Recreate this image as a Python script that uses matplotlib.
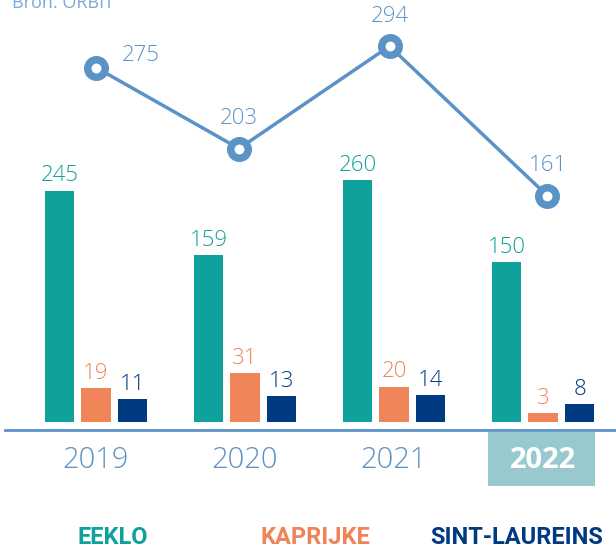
import matplotlib.pyplot as plt
import matplotlib.transforms as mtransforms
from matplotlib.patches import Rectangle
import numpy as np

# data
years = ['2019', '2020', '2021', '2022']
eeklo = [245, 159, 260, 150]
kaprijke = [19, 31, 20, 3]
sint_laureins = [11, 13, 14, 8]
totaal = [275, 203, 294, 161]
gemeenten = ['EEKLO', 'KAPRIJKE', 'SINT-LAUREINS']

c_eeklo = '#0fa19c'
c_kap = '#ef8459'
c_sint = '#003a80'
c_line = '#5b93c7'
c_box = '#97c9cf'

plt.rcParams['font.family'] = ['Open Sans', 'DejaVu Sans']

W, H = 616, 547
fig = plt.figure(figsize=(W / 100, H / 100), dpi=100)

# axes: baseline of the bars at 422 px from top
ax = fig.add_axes([0, 125 / H, 1, 422 / H])
x = np.arange(len(years))
ax.set_xlim(-96 / 149, (W - 96) / 149)

# bars use a compressed (power) scale like the original graphic
ax.set_yscale('function', functions=(lambda v: np.sign(v) * np.abs(v) ** 0.75,
                                     lambda v: np.sign(v) * np.abs(v) ** (4 / 3)))
ax.set_ylim(0, 546)

bw = 0.2
step = 0.245
reeksen = [(eeklo, c_eeklo), (kaprijke, c_kap), (sint_laureins, c_sint)]
for k, (vals, col) in enumerate(reeksen):
    xs = x + (k - 1) * step
    ax.bar(xs, vals, width=bw, color=col)
    for xi, v in zip(xs, vals):
        ax.annotate(str(v), (xi, v), xytext=(0, 3), textcoords='offset points',
                    ha='center', va='bottom', fontsize=16, color=col, fontweight='light')

for s in ['top', 'left', 'right']:
    ax.spines[s].set_visible(False)
ax.spines['bottom'].set_position(('outward', 6))
ax.spines['bottom'].set_color(c_line)
ax.spines['bottom'].set_linewidth(2)
ax.spines['bottom'].set_bounds(-91 / 149, (W - 96) / 149)
ax.set_yticks([])
ax.set_xticks(x)
ax.set_xticklabels(years, fontsize=21, color=c_line, fontweight='light')
ax.tick_params(axis='x', length=0, pad=11)
lab = ax.get_xticklabels()[-1]
lab.set_color('white')
lab.set_fontweight('bold')

# highlighted box behind 2022
trans = mtransforms.blended_transform_factory(ax.transData, fig.transFigure)
ax.add_patch(Rectangle((3 - 0.37, 61 / H), 0.72, 54 / H, transform=trans,
                       facecolor=c_box, edgecolor='none', clip_on=False, zorder=0))

# total line on its own axis
ax2 = ax.twinx()
ax2.set_ylim(-40, 335)
ax2.axis('off')
xl = x + np.array([0, -0.04, -0.03, 0.03])
ax2.plot(xl, totaal, color=c_line, lw=2.5, marker='o', markersize=12.6,
         markerfacecolor='white', markeredgewidth=5.4, markeredgecolor=c_line, zorder=5)
offsets = [(32, 1), (0, 14), (0, 14), (0, 14)]
for xi, v, off in zip(xl, totaal, offsets):
    ax2.annotate(str(v), (xi, v), xytext=off, textcoords='offset points',
                 ha='center', va='bottom', fontsize=16, color=c_line, fontweight='light')

# source (cut off at the top edge, as in the original)
fig.text(12 / W, 1 - 8 / H, 'Bron: ORBIT', fontsize=13, color='#7fa9d6', va='baseline')

# legend as coloured words
leg_x = [113, 315, 517]
for naam, col, px in zip(gemeenten, [c_eeklo, c_kap, c_sint], leg_x):
    fig.text(px / W, 1 - 537 / H, naam, fontsize=17, fontweight='bold', color=col,
             ha='center', va='center', family=['Roboto', 'DejaVu Sans'])

fig.savefig('out.png', dpi=100)
